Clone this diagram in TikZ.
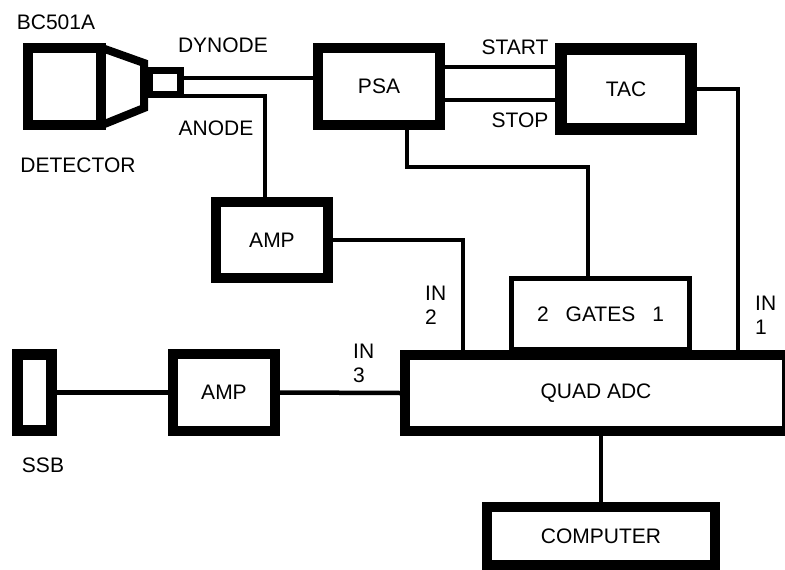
\documentclass[tikz,border=0pt]{standalone}
\usepackage{fontspec}
\setmainfont{Liberation Sans}
\usetikzlibrary{positioning,calc}
\begin{document}
\begin{tikzpicture}[x=1pt,y=-1pt,
	blk/.style={draw,line width=10pt,inner sep=0pt,font=\fontsize{21}{24}\selectfont},
	wire/.style={line width=4.5pt},
	lbl/.style={inner sep=0pt,font=\fontsize{21}{24}\selectfont}]
	\useasboundingbox (0,0) rectangle (785,570);
	
	% detector
	\node[blk,minimum width=73pt,minimum height=77pt] (body) at (64.5,86.5) {};
	\draw[line width=8pt] (102,48) -- (144,63) -- (144,108) -- (102,125);
	\node[blk,line width=7pt,minimum width=31pt,minimum height=24pt] (base) at (165,82.5) {};
	\node[lbl] (bc) at (56,22) {BC501A};
	\node[lbl] (det) at (78,165) {DETECTOR};
	\node[lbl] (dyn) at (223,45) {DYNODE};
	\node[lbl] (ano) at (216,128) {ANODE};
	
	% modules
	\node[blk,minimum width=122pt,minimum height=77pt] (psa) at (379,86.5) {PSA};
	\node[blk,line width=12pt,minimum width=130pt,minimum height=80pt] (tac) at (626,89) {TAC};
	\node[blk,minimum width=112pt,minimum height=76pt] (amp1) at (272,240) {AMP};
	\node[blk,minimum width=382pt,minimum height=76pt] (adc) at (596,393) {QUAD ADC};
	\node[blk,line width=5pt,minimum width=178pt,minimum height=71pt] (gates) at (600.5,314) {2\hspace{17pt}GATES\hspace{17pt}1};
	\node[blk,line width=11pt,minimum width=34pt,minimum height=76pt] (ssb) at (34.5,392.5) {};
	\node[blk,minimum width=102pt,minimum height=77pt] (amp2) at (224,392.5) {AMP};
	\node[blk,minimum width=228pt,minimum height=58pt] (comp) at (601,536) {COMPUTER};
	
	\node[lbl] (start) at (515,47) {START};
	\node[lbl] (stop) at (520,120) {STOP};
	\node[lbl,align=left,anchor=west] (in2) at (425,305) {IN\\2};
	\node[lbl,align=left,anchor=west] (in3) at (353,363) {IN\\3};
	\node[lbl,align=left,anchor=west] (in1) at (755,315) {IN\\1};
	\node[lbl] (ssblbl) at (43,465) {SSB};
	
	% signals
	\draw[wire] ([yshift=4.5pt]base.east) -- ([yshift=4.5pt]base.east -| psa.west);
	\draw[wire] ([yshift=-13.5pt]base.east) -| ([xshift=-7pt]amp1.north);
	\draw[wire] ([yshift=19.5pt]psa.east) -- ([yshift=19.5pt]psa.east -| tac.west);
	\draw[wire] ([yshift=-13.5pt]psa.east) -- ([yshift=-13.5pt]psa.east -| tac.west);
	\draw[wire] ([xshift=28pt]psa.south) -- ++(0,37) -| ([xshift=-12.5pt]gates.north);
	\draw[wire] (amp1.east) -| ([xshift=63pt]adc.north west);
	\draw[wire] (tac.east) -| ([xshift=-54pt]adc.north east);
	\draw[wire] (ssb.east) -- (amp2.west);
	\draw[wire] (amp2.east) -- (adc.west);
	\draw[wire] (adc.south -| comp.north) -- (comp.north);
\end{tikzpicture}
\end{document}
